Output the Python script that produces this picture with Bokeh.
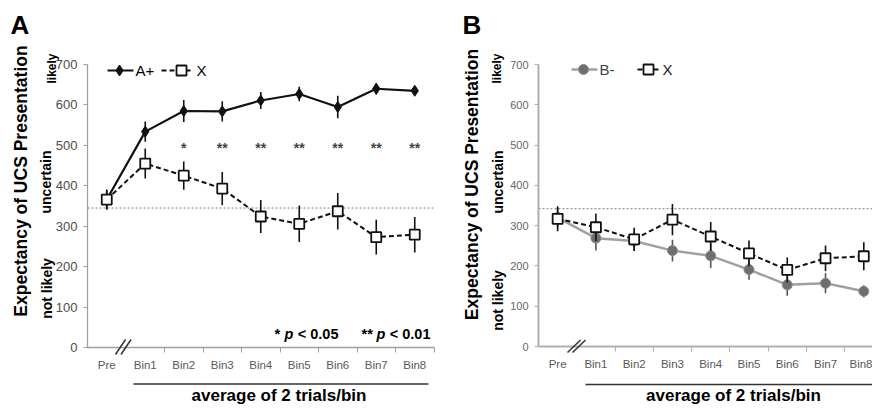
import numpy as np
from bokeh.plotting import figure
from bokeh.layouts import row
from bokeh.models import Range1d, FixedTicker, Label, Arrow, ColumnDataSource
from bokeh.embed import file_html
from bokeh.resources import INLINE
from bokeh.core.properties import value

# ---------------- data ----------------
bins = ["Pre", "Bin1", "Bin2", "Bin3", "Bin4", "Bin5", "Bin6", "Bin7", "Bin8"]
y_ticks = [0, 100, 200, 300, 400, 500, 600, 700]

# Panel A
a_plus_mean = [366, 534, 585, 584, 611, 627, 595, 640, 635]
a_plus_sem = [22, 25, 27, 25, 21, 18, 28, 14, 10]
a_x_mean = [366, 455, 425, 393, 324, 306, 337, 273, 279]
a_x_sem = [25, 37, 35, 41, 41, 45, 45, 43, 44]
a_sig = ["", "", "*", "**", "**", "**", "**", "**", "**"]
a_sig_level = 500
a_chance = 345

# Panel B
b_minus_mean = [320, 269, 262, 238, 225, 191, 153, 157, 137]
b_minus_sem = [25, 31, 25, 27, 30, 25, 27, 25, 15]
b_x_mean = [317, 296, 266, 315, 273, 231, 190, 219, 224]
b_x_sem = [31, 34, 29, 39, 36, 32, 31, 32, 35]
b_chance = 342

FONT = "Liberation Sans"
idx = list(range(len(bins)))
H = 410


def make_panel(canvas_left, width, fl, x_step, ft, fb, axis_color, axis_width,
               ytick_size, ytick_color, x_bound_end):
    x0 = -0.5

    def X(px):
        return x0 + (px - fl) / x_step

    def Y(py):
        return (fb - py) * 700.0 / (fb - ft)

    p = figure(width=width, height=H,
               x_range=Range1d(X(canvas_left), X(canvas_left + width)),
               y_range=Range1d(Y(H), Y(0)),
               output_backend="svg", toolbar_location=None,
               min_border_left=0, min_border_right=0,
               min_border_top=0, min_border_bottom=0)
    p.xgrid.visible = False
    p.ygrid.visible = False
    p.outline_line_color = None

    p.yaxis.fixed_location = x0
    p.yaxis.bounds = (0, 700)
    p.yaxis.ticker = FixedTicker(ticks=y_ticks)
    p.yaxis.axis_line_color = axis_color
    p.yaxis.axis_line_width = axis_width
    p.yaxis.major_tick_line_color = axis_color
    p.yaxis.major_tick_out = 4
    p.yaxis.major_tick_in = 0
    p.yaxis.minor_tick_line_color = None
    p.yaxis.major_label_standoff = 6
    p.yaxis.major_label_text_font = FONT
    p.yaxis.major_label_text_font_size = ytick_size
    p.yaxis.major_label_text_color = ytick_color

    p.xaxis.fixed_location = 0
    p.xaxis.bounds = (x0, x_bound_end)
    p.xaxis.ticker = FixedTicker(ticks=idx, minor_ticks=[i + 0.5 for i in idx[1:]])
    p.xaxis.major_label_overrides = {i: b for i, b in zip(idx, bins)}
    p.xaxis.axis_line_color = axis_color
    p.xaxis.axis_line_width = axis_width
    p.xaxis.major_tick_line_color = None
    p.xaxis.major_tick_out = 0
    p.xaxis.major_tick_in = 0
    p.xaxis.minor_tick_line_color = axis_color
    p.xaxis.minor_tick_out = 5
    p.xaxis.minor_tick_in = 0
    p.xaxis.major_label_standoff = 6
    p.xaxis.major_label_text_font = FONT
    p.xaxis.major_label_text_font_size = "11.5px"
    p.xaxis.major_label_text_color = "#5a5a5a"

    return p, X, Y


def add_label(p, x, y, text, size, style="bold", align="left", angle=0.0, color="#000000"):
    # (x, y) is the visual middle of the text line
    p.add_layout(Label(x=x, y=y, text=text, text_font=FONT, text_font_size=size,
                       text_font_style=style, text_align=align, text_baseline="middle",
                       angle=angle, text_color=color))


def add_seg(p, xa, ya, xb, yb, width=1.5, color="#333333"):
    p.add_layout(Arrow(end=None, x_start=xa, y_start=ya, x_end=xb, y_end=yb,
                       line_width=width, line_color=color))


V = np.pi / 2

# ---------------- Panel A ----------------
pA, XA, YA = make_panel(0, 448, 87, 38.5, 64, 347, "#a0a0a0", 1.3, "13px", "#4d4d4d", 8.5)

pA.line([-0.5, 8.5], [a_chance, a_chance], line_color="#7a7a7a", line_dash="2 2", line_width=1)

srcA = ColumnDataSource(dict(
    x=idx, ap=a_plus_mean,
    ap_lo=[m - e for m, e in zip(a_plus_mean, a_plus_sem)],
    ap_hi=[m + e for m, e in zip(a_plus_mean, a_plus_sem)],
    xm=a_x_mean,
    x_lo=[m - e for m, e in zip(a_x_mean, a_x_sem)],
    x_hi=[m + e for m, e in zip(a_x_mean, a_x_sem)],
    sig=a_sig, sig_y=[a_sig_level] * len(idx)))

pA.line("x", "ap", source=srcA, line_color="#111111", line_width=2.2)
pA.line("x", "xm", source=srcA, line_color="#111111", line_width=2, line_dash="5 3")
pA.segment("x", "ap_lo", "x", "ap_hi", source=srcA, line_color="#111111", line_width=1.6)
pA.segment("x", "x_lo", "x", "x_hi", source=srcA, line_color="#111111", line_width=1.6)
pA.scatter("x", "ap", source=srcA, marker="diamond", size=11, fill_color="#111111",
           line_color="#111111")
pA.scatter("x", "xm", source=srcA, marker="square", size=10, fill_color="white",
           line_color="#111111", line_width=1.8)
pA.text("x", "sig_y", text="sig", source=srcA, text_font=value(FONT), text_font_size="14px",
        text_font_style="bold", text_align="center", text_baseline="middle",
        text_color="#444444", y_offset=3)

# legend A
ly = YA(70)
pA.line([XA(107), XA(133)], [ly, ly], line_color="#111111", line_width=2.2)
pA.scatter([XA(119)], [ly], marker="diamond", size=11, fill_color="#111111", line_color="#111111")
add_label(pA, XA(135), ly, "A+", "15px", style="normal")
pA.line([XA(161), XA(193)], [ly, ly], line_color="#111111", line_width=2, line_dash="5 3")
pA.scatter([XA(181)], [ly], marker="square", size=10, fill_color="white",
           line_color="#111111", line_width=1.8)
add_label(pA, XA(196), ly, "X", "15px", style="normal")

# texts A
add_label(pA, XA(10), YA(24.5), "A", "26px")
add_label(pA, XA(20.5), YA(180.5), "Expectancy of UCS Presentation", "17.5px",
          align="center", angle=V)
add_label(pA, XA(51), YA(68), "likely", "12px", align="center", angle=V)
add_label(pA, XA(45), YA(181.5), "uncertain", "14px", align="center", angle=V)
add_label(pA, XA(46), YA(288), "not likely", "14px", align="center", angle=V)

add_label(pA, XA(274), YA(333), "*", "14.5px")
add_label(pA, XA(284), YA(333), "p", "14.5px", style="bold italic")
add_label(pA, XA(338), YA(333), "< 0.05", "14.5px", align="right")
add_label(pA, XA(361), YA(333), "**", "14.5px")
add_label(pA, XA(376), YA(333), "p", "14.5px", style="bold italic")
add_label(pA, XA(430), YA(333), "< 0.01", "14.5px", align="right")

add_seg(pA, XA(133), YA(383.5), XA(428), YA(383.5), width=1.5)
add_label(pA, XA(278.5), YA(395), "average of 2 trials/bin", "17px", align="center")

add_seg(pA, XA(115), YA(354), XA(125), YA(339), width=1.5)
add_seg(pA, XA(120.5), YA(354), XA(130.5), YA(339), width=1.5)

# ---------------- Panel B ----------------
pB, XB, YB = make_panel(448, 424, 538, 38.27, 64, 346, "#b0b0b0", 2, "11px", "#666666", 8.5)

pB.line([-0.5, 8.5], [b_chance, b_chance], line_color="#7a7a7a", line_dash="2 2", line_width=1)

srcB = ColumnDataSource(dict(
    x=idx, bm=b_minus_mean,
    bm_lo=[m - e for m, e in zip(b_minus_mean, b_minus_sem)],
    bm_hi=[m + e for m, e in zip(b_minus_mean, b_minus_sem)],
    xm=b_x_mean,
    x_lo=[m - e for m, e in zip(b_x_mean, b_x_sem)],
    x_hi=[m + e for m, e in zip(b_x_mean, b_x_sem)]))

pB.line("x", "bm", source=srcB, line_color="#a0a0a0", line_width=2.5)
pB.segment("x", "bm_lo", "x", "bm_hi", source=srcB, line_color="#555555", line_width=1.6)
pB.scatter("x", "bm", source=srcB, marker="circle", size=10, fill_color="#6e6e6e",
           line_color="#8c8c8c", line_width=1)
pB.line("x", "xm", source=srcB, line_color="#111111", line_width=2, line_dash="5 3")
pB.segment("x", "x_lo", "x", "x_hi", source=srcB, line_color="#111111", line_width=1.6)
pB.scatter("x", "xm", source=srcB, marker="square", size=10, fill_color="white",
           line_color="#111111", line_width=1.8)

# legend B
lyb = YB(69)
pB.line([XB(571), XB(597)], [lyb, lyb], line_color="#a0a0a0", line_width=2.5)
pB.scatter([XB(583)], [lyb], marker="circle", size=10, fill_color="#6e6e6e",
           line_color="#8c8c8c")
add_label(pB, XB(599), lyb, "B-", "15px", style="normal", color="#444444")
pB.line([XB(637), XB(660)], [lyb, lyb], line_color="#111111", line_width=2, line_dash="5 3")
pB.scatter([XB(648)], [lyb], marker="square", size=10, fill_color="white",
           line_color="#111111", line_width=1.8)
add_label(pB, XB(662), lyb, "X", "15px", style="normal", color="#222222")

# texts B
add_label(pB, XB(462), YB(24.5), "B", "26px")
add_label(pB, XB(471.5), YB(184), "Expectancy of UCS Presentation", "17.5px",
          align="center", angle=V)
add_label(pB, XB(496), YB(68), "likely", "12px", align="center", angle=V)
add_label(pB, XB(497), YB(181.5), "uncertain", "14px", align="center", angle=V)
add_label(pB, XB(497), YB(300), "not likely", "14px", align="center", angle=V)

add_seg(pB, XB(585), YB(384), XB(874), YB(384), width=1.5)
add_label(pB, XB(733), YB(395), "average of 2 trials/bin", "17px", align="center")

add_seg(pB, XB(567), YB(352), XB(580), YB(339.5), width=1.5)
add_seg(pB, XB(572), YB(352), XB(585), YB(339.5), width=1.5)

layout = row(pA, pB)
open("out.html", "w").write(file_html(layout, INLINE))
